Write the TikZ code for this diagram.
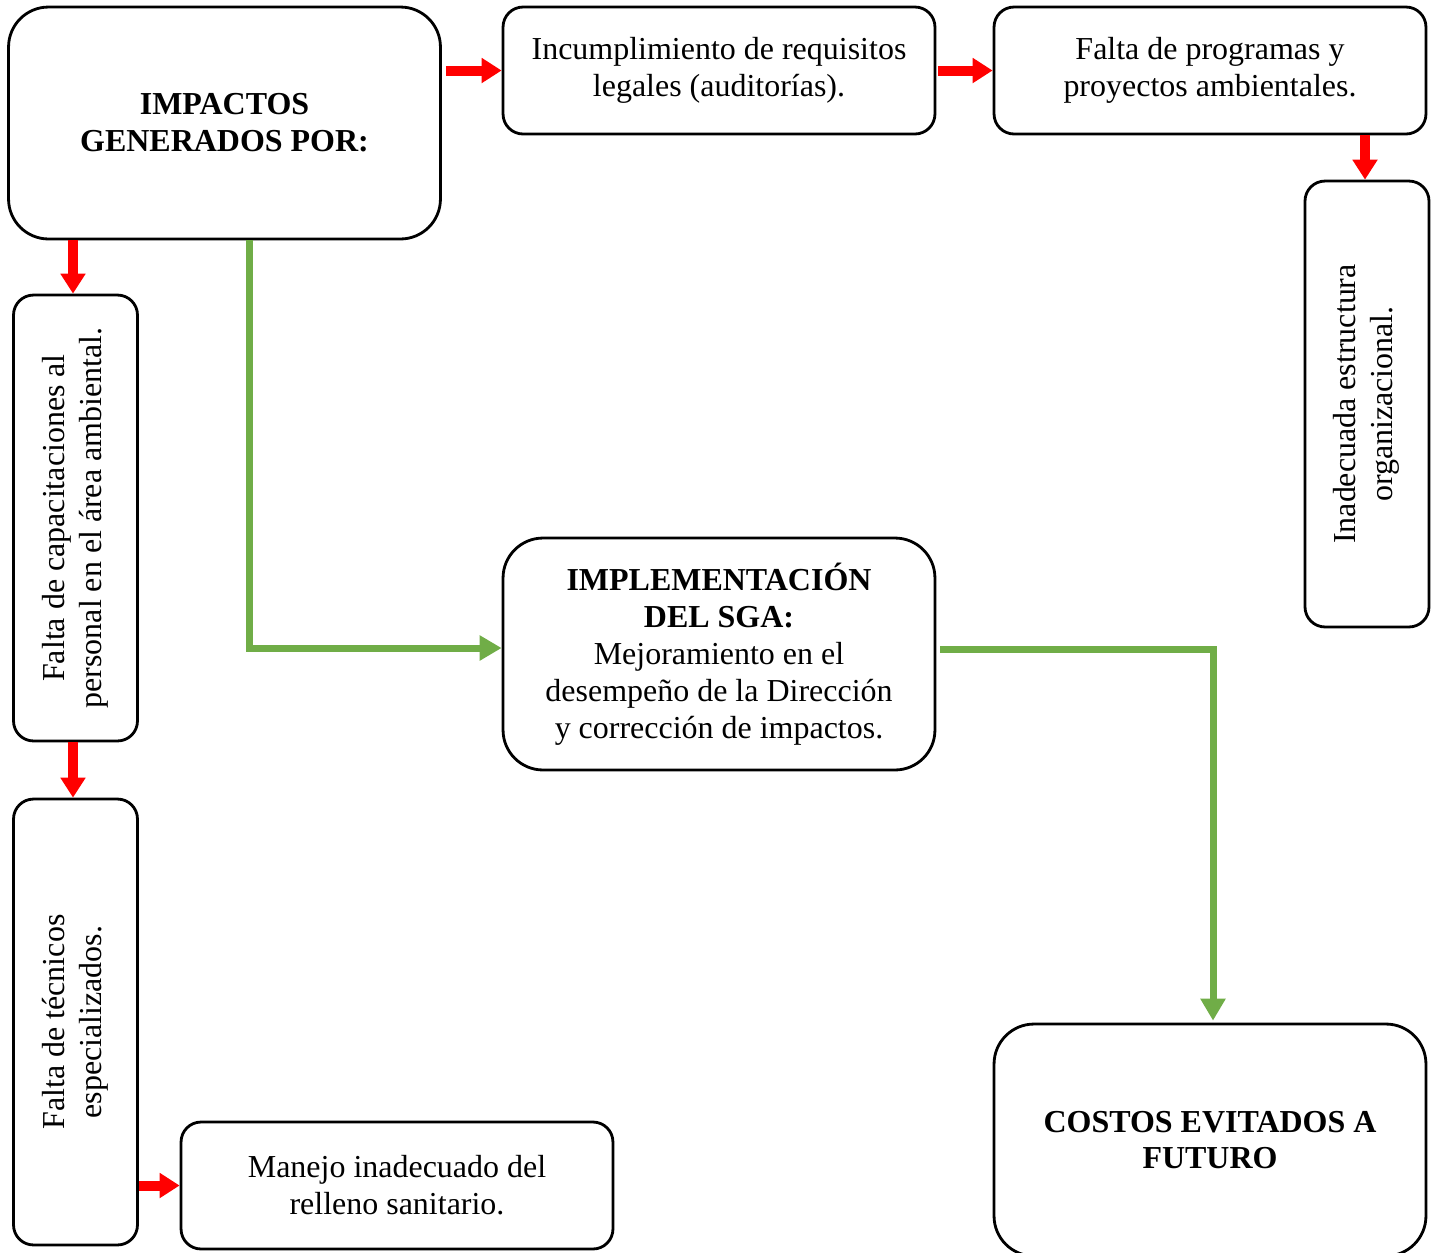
\documentclass[tikz,border=0pt]{standalone}
\usepackage{fontspec}
\setmainfont{Liberation Serif}
\usepackage{graphicx}
\usetikzlibrary{arrows.meta,positioning}
\definecolor{leafgreen}{HTML}{70AD47}
\tikzstyle{box}=[draw, line width=1.6pt, rounded corners=0.4cm, align=center, inner sep=0pt, font=\fontsize{18.2}{21}\selectfont]
\tikzstyle{widebox}=[box, minimum width=8.64cm, minimum height=2.54cm]
\tikzstyle{bigbox}=[box, rounded corners=0.8cm, minimum width=8.64cm, minimum height=4.64cm]
\tikzstyle{tallbox}=[box, minimum width=2.48cm, minimum height=8.92cm]
\tikzset{%
    redarrow/.style={-{Triangle[width=0.48cm,length=0.4cm]}, line width=0.2cm, red},
    greenarrow/.style={-{Triangle[width=0.48cm,length=0.44cm]}, line width=0.14cm, leafgreen},
  }
\newcommand{\uptext}[1]{\rotatebox{90}{\begin{tabular}{@{}c@{}}#1\end{tabular}}}

\begin{document}
\begin{tikzpicture}[x=0.02cm, y=-0.02cm]
    \useasboundingbox (0,0) rectangle (1437,1252);
    \node (imp) [bigbox] at (224.5,123) {\textbf{IMPACTOS}\\\textbf{GENERADOS POR:}};
    \node (inc) [widebox] at (719,70.5) {Incumplimiento de requisitos\\legales (auditorías).};
    \node (fal) [widebox] at (1210,70.5) {Falta de programas y\\proyectos ambientales.};
    \node (ina) [tallbox] at (1367,404) {\uptext{Inadecuada estructura\\organizacional.}};
    %
    \node (cap) [tallbox] at (75.5,518) {\uptext{Falta de capacitaciones al\\personal en el área ambiental.}};
    \node (tec) [tallbox] at (75.5,1022) {\uptext{Falta de técnicos\\especializados.}};
    \node (man) [widebox] at (397,1185.5) {Manejo inadecuado del\\relleno sanitario.};
    %
    \node (sga) [bigbox] at (719,654) {\textbf{IMPLEMENTACIÓN}\\\textbf{DEL SGA:}\\Mejoramiento en el\\desempeño de la Dirección\\y corrección de impactos.};
    \node (cos) [bigbox] at (1210,1140) {\textbf{COSTOS EVITADOS A}\\\textbf{FUTURO}};
    %
    \draw [redarrow] ([xshift=0.08cm]imp.east |- inc.west) -- (inc.west);
    \draw [redarrow] ([xshift=0.04cm]inc.east) -- (fal.west);
    \draw [redarrow] ([xshift=-0.04cm]ina.north |- fal.south) -- ([xshift=-0.04cm]ina.north);
    \draw [redarrow] ([xshift=-0.05cm]cap.north |- imp.south) -- ([xshift=-0.05cm]cap.north);
    \draw [redarrow] ([xshift=-0.05cm]cap.south) -- ([xshift=-0.05cm]tec.north);
    \draw [redarrow] (tec.east |- man.west) -- (man.west);
    %
    \draw [greenarrow] ([xshift=0.51cm]imp.south) |- ([yshift=0.12cm]sga.west);
    \draw [greenarrow] ([xshift=0.08cm, yshift=0.1cm]sga.east) -| ([xshift=0.06cm, yshift=0.04cm]cos.north);
\end{tikzpicture}
\end{document}
